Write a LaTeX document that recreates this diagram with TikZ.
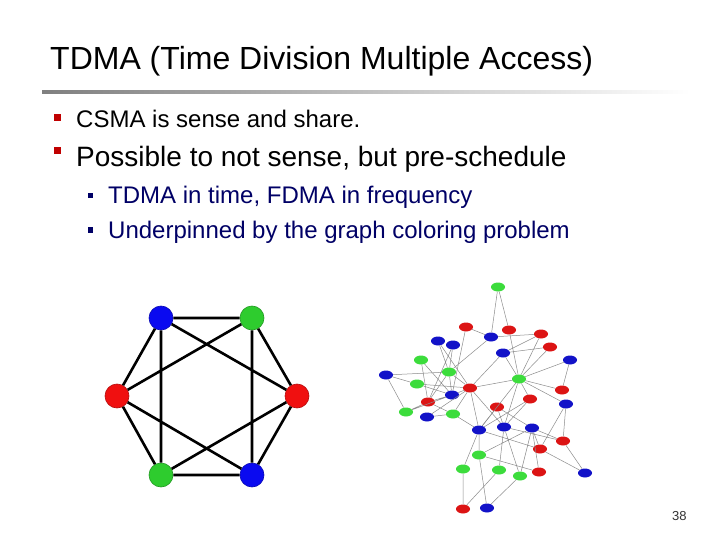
\documentclass[tikz,border=0pt]{standalone}
\usepackage{fontspec}
\setmainfont{Liberation Sans}
\usetikzlibrary{shapes.geometric}
\definecolor{bulletred}{HTML}{C00000}
\definecolor{subnavy}{HTML}{000066}
\definecolor{hexblue}{HTML}{0A0AF0}
\definecolor{hexgreen}{HTML}{2ECC2E}
\definecolor{hexred}{HTML}{F01010}
\definecolor{dotblue}{HTML}{1212C8}
\definecolor{dotred}{HTML}{DC1414}
\definecolor{dotgreen}{HTML}{3CDC3C}

\begin{document}
\begin{tikzpicture}[x=1pt, y=-1pt,
  txt/.style={anchor=base west, inner sep=0pt},
  mainbul/.style={fill=bulletred, minimum size=7pt, inner sep=0pt},
  subbul/.style={fill=subnavy, minimum size=5pt, inner sep=0pt},
  hexnode/.style={circle, draw=#1!75!black, fill=#1, minimum size=24pt, inner sep=0pt, line width=0.6pt},
  hexedge/.style={line width=2.6pt, black},
  dot/.style={ellipse, fill=#1, minimum width=14pt, minimum height=9pt, inner sep=0pt},
  link/.style={black!45, line width=0.5pt},
]
\useasboundingbox[fill=white] (0,0) rectangle (720,540);

% title and rule
\node[txt, font=\fontsize{32}{38}\selectfont] (title) at (50,70) {TDMA (Time Division Multiple Access)};
\shade[left color=black!50, right color=white] (42,90.2) rectangle (690,93.4);

% bullets
\node[mainbul] (bulone) at (57,117.5) {};
\node[txt, font=\fontsize{24}{29}\selectfont] (csma) at (76,128) {CSMA is sense and share.};
\node[mainbul] (bultwo) at (57,151) {};
\node[txt, font=\fontsize{28}{33}\selectfont] (presched) at (76,167) {Possible to not sense, but pre-schedule};
\node[subbul] (subone) at (90,196) {};
\node[txt, text=subnavy, font=\fontsize{24}{29}\selectfont] (tdma) at (108,204) {TDMA in time, FDMA in frequency};
\node[subbul] (subtwo) at (90,230) {};
\node[txt, text=subnavy, font=\fontsize{24}{29}\selectfont] (coloring) at (108,238) {Underpinned by the graph coloring problem};

% three-colored hexagon
\node[hexnode=hexblue]  (hb1) at (161,318) {};
\node[hexnode=hexgreen] (hg1) at (252,318) {};
\node[hexnode=hexred]   (hr1) at (117,396) {};
\node[hexnode=hexred]   (hr2) at (297,396) {};
\node[hexnode=hexgreen] (hg2) at (161,475) {};
\node[hexnode=hexblue]  (hb2) at (252,475) {};
\draw[hexedge] (hb1) -- (hg1) (hb1) -- (hr1) (hb1) -- (hg2) (hb1) -- (hr2)
  (hg1) -- (hr1) (hg1) -- (hb2) (hg1) -- (hr2)
  (hr1) -- (hg2) (hr1) -- (hb2) (hr2) -- (hg2) (hr2) -- (hb2) (hg2) -- (hb2);

% larger colored graph
\node[dot=dotgreen] (g1) at (498,287) {};
\node[dot=dotred]   (r1) at (466,327) {};
\node[dot=dotred]   (r2) at (509,330) {};
\node[dot=dotblue]  (b1) at (491,337) {};
\node[dot=dotred]   (r3) at (541,334) {};
\node[dot=dotblue]  (b2) at (438,341) {};
\node[dot=dotblue]  (b3) at (453,345) {};
\node[dot=dotred]   (r4) at (550,347) {};
\node[dot=dotblue]  (b4) at (503,353) {};
\node[dot=dotgreen] (g2) at (421,360) {};
\node[dot=dotblue]  (b5) at (570,360) {};
\node[dot=dotgreen] (g3) at (449,372) {};
\node[dot=dotblue]  (b6) at (386,375) {};
\node[dot=dotgreen] (g4) at (519,379) {};
\node[dot=dotgreen] (g5) at (417,384) {};
\node[dot=dotred]   (r5) at (470,388) {};
\node[dot=dotred]   (r6) at (562,390) {};
\node[dot=dotblue]  (b7) at (452,395) {};
\node[dot=dotred]   (r7) at (530,399) {};
\node[dot=dotred]   (r8) at (428,402) {};
\node[dot=dotblue]  (b8) at (566,404) {};
\node[dot=dotred]   (r9) at (497,407) {};
\node[dot=dotgreen] (g6) at (406,412) {};
\node[dot=dotgreen] (g7) at (453,414) {};
\node[dot=dotblue]  (b9) at (427,417) {};
\node[dot=dotblue]  (b10) at (479,430) {};
\node[dot=dotblue]  (b11) at (504,427) {};
\node[dot=dotblue]  (b12) at (532,428) {};
\node[dot=dotred]   (r10) at (563,441) {};
\node[dot=dotred]   (r11) at (540,449) {};
\node[dot=dotgreen] (g8) at (479,455) {};
\node[dot=dotgreen] (g9) at (463,469) {};
\node[dot=dotgreen] (g10) at (499,470) {};
\node[dot=dotred]   (r12) at (539,472) {};
\node[dot=dotgreen] (g11) at (520,476) {};
\node[dot=dotblue]  (b13) at (585,473) {};
\node[dot=dotred]   (r13) at (463,509) {};
\node[dot=dotblue]  (b14) at (487,508) {};
\draw[link] (g1) -- (b1) (g1) -- (r2) (r2) -- (g4) (r1) -- (b1) (r1) -- (b7)
  (b1) -- (g3) (b1) -- (r3) (b4) -- (r3) (b4) -- (r4) (b4) -- (r5) (b4) -- (g4)
  (r3) -- (g4) (r4) -- (g4) (b5) -- (g4) (b5) -- (r6) (r6) -- (g4) (g4) -- (r7)
  (g4) -- (r5) (g4) -- (r9) (g4) -- (b11) (g4) -- (b10) (g4) -- (b8);
\draw[link] (b2) -- (g3) (b2) -- (r5) (b3) -- (g3) (b3) -- (r8) (g2) -- (r8)
  (g2) -- (b7) (b6) -- (g3) (b6) -- (g5) (b6) -- (g6) (g5) -- (r5) (g5) -- (b7)
  (g3) -- (r5) (g3) -- (r8) (g3) -- (b7) (b7) -- (r5) (b7) -- (r8) (r5) -- (g7)
  (r5) -- (b10) (r5) -- (b11) (r5) -- (b9) (g6) -- (r8) (g6) -- (b7) (b9) -- (g7)
  (g7) -- (b10) (g7) -- (r8);
\draw[link] (r9) -- (b10) (r9) -- (b11) (r9) -- (b12) (r7) -- (b10) (r7) -- (b11)
  (b10) -- (g8) (b10) -- (g9) (b10) -- (r11) (b11) -- (g10) (b11) -- (g11)
  (b11) -- (r10) (b12) -- (r10) (b12) -- (g8) (b12) -- (g11) (b12) -- (r11)
  (b8) -- (r10) (b8) -- (r11) (r10) -- (b13) (r11) -- (b13) (g8) -- (r12)
  (g8) -- (b14) (g9) -- (r13) (g10) -- (r13) (g11) -- (b14) (r12) -- (b12);

% slide number
\node[txt, text=black!80, font=\fontsize{13}{15}\selectfont] (pageno) at (672,520) {38};
\end{tikzpicture}
\end{document}
